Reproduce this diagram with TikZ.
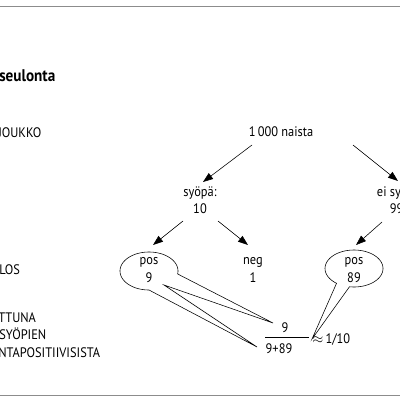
\documentclass[tikz,border=0pt]{standalone}
\usepackage{fontspec}
\setmainfont{PT Sans}[FakeStretch=0.9]
\usetikzlibrary{arrows.meta}
\tikzset{
  txt/.style={inner sep=0pt, anchor=base, font=\fontsize{9.8}{11}\selectfont},
  lbl/.style={inner sep=0pt, anchor=base west, font=\fontsize{9.8}{11}\selectfont},
  arr/.style={line width=0.4pt, -{Triangle[length=0.25cm,width=0.18cm]}},
  bubble/.style={line width=0.4pt},
  rule/.style={line width=0.7pt, draw=black!45}
}
\begin{document}
\begin{tikzpicture}[x=0.025cm, y=-0.025cm]
\useasboundingbox (0,0) rectangle (400,400);
\clip (0,0) rectangle (400,400);
% rules
\coordinate (tl) at (0,6); \coordinate (tr) at (400,6);
\coordinate (bl) at (0,395); \coordinate (br) at (400,395);
\draw[rule] (tl) -- (tr);
\draw[rule] (bl) -- (br);
% left labels
\node[lbl, font=\fontsize{12}{14}\selectfont\bfseries] (title) at (-1,82) {seulonta};
\node[lbl] (joukko) at (-2,138) {JOUKKO};
\node[lbl] (los) at (-1,274) {LOS};
\node[lbl] (l1) at (-2,322) {TTUNA};
\node[lbl] (l2) at (-1,339) {SYÖPIEN};
\node[lbl] (l3) at (-2,357) {NTAPOSITIIVISISTA};
% tree
\node[txt] (naista) at (281,137) {1\,000 naista};
\node[txt] (syo) at (200,196) {syöpä:};
\node[txt] (syoN) at (200,213) {10};
\node[txt] (eis) at (400,196) {ei syöpä:};
\node[txt] (eisN) at (400,213) {990};
\node[txt] (p9) at (149,264) {pos};
\node[txt] (p9N) at (149,282) {9};
\node[txt] (neg) at (253,264) {neg};
\node[txt] (negN) at (253,282) {1};
\node[txt] (p89) at (354,264) {pos};
\node[txt] (p89N) at (354,282) {89};
\draw[arr] ([shift={(-29,8)}]naista.base) -- ([shift={(3,-14)}]syo.base);
\draw[arr] ([shift={(72,8)}]naista.base) -- ([shift={(-2,-15)}]eis.base);
\draw[arr] ([shift={(-17,8)}]syoN.base) -- ([shift={(4,-19)}]p9.base);
\draw[arr] ([shift={(18,8)}]syoN.base) -- ([shift={(-5,-19)}]neg.base);
\draw[arr] ([shift={(-18,9)}]eisN.base) -- ([shift={(2,-19)}]p89.base);
% fraction
\node[txt] (fnum) at (285,332) {9};
\node[txt] (fden) at (279,353) {9+89};
\coordinate (barL) at (265,337);
\coordinate (barR) at (309,337);
\draw[line width=0.5pt] (barL) -- (barR);
\node[txt, anchor=base west] (approx) at (312,343) {$\approx$\,1/10};
% callout bubbles
\coordinate (tipA) at (273,323);
\coordinate (notch) at (164,285);
\coordinate (tipB) at (257,347);
\draw[bubble] plot[domain=90:369, samples=80, smooth] ({149+29*cos(\x)},{271+19*sin(\x)})
  -- (tipA) -- (notch) -- (tipB) -- cycle;
\coordinate (tipC) at (312,339);
\draw[bubble] plot[domain=127:459, samples=80, smooth] ({354+29*cos(\x)},{268.5+18.5*sin(\x)})
  -- (tipC) -- cycle;
\end{tikzpicture}
\end{document}
